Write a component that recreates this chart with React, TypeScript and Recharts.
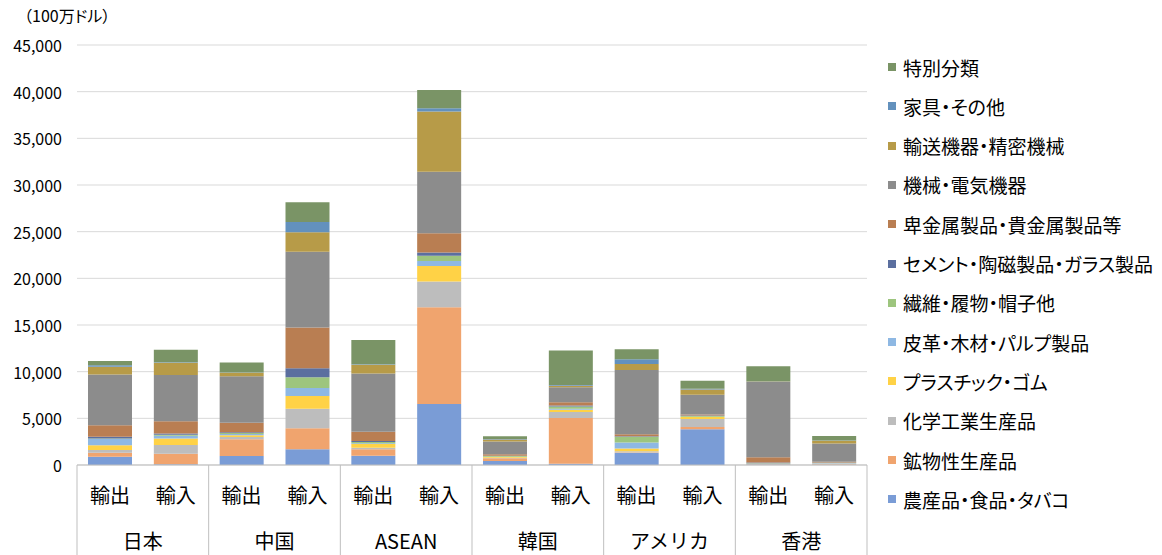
import { BarChart, Bar, XAxis, YAxis, CartesianGrid } from "recharts";

const regions = ["日本", "中国", "ASEAN", "韓国", "アメリカ", "香港"];
const flows = ["輸出", "輸入"];
const yTicks = [0, 5000, 10000, 15000, 20000, 25000, 30000, 35000, 40000, 45000];

// order: 日本 輸出/輸入, 中国, ASEAN, 韓国, アメリカ, 香港
const agri = [890, 70, 960, 1680, 1000, 6540, 430, 140, 1290, 3820, 60, 40];
const mineral = [430, 1140, 1790, 2250, 680, 10360, 290, 4890, 50, 250, 30, 30];
const chem = [290, 930, 250, 2110, 180, 2750, 70, 640, 140, 860, 30, 60];
const plastic = [500, 710, 180, 1360, 390, 1680, 70, 250, 290, 210, 20, 30];
const leather = [680, 290, 140, 860, 70, 540, 30, 100, 640, 40, 20, 60];
const textile = [50, 100, 100, 1140, 140, 540, 70, 250, 610, 70, 20, 20];
const cement = [180, 140, 100, 960, 100, 360, 40, 100, 70, 50, 100, 30];
const metal = [1250, 1320, 1000, 4360, 1000, 2070, 140, 360, 210, 100, 540, 70];
const machine = [5430, 4930, 5000, 8140, 6250, 6570, 1390, 1610, 6890, 2140, 8070, 1960];
const transport = [820, 1320, 360, 2070, 930, 6460, 210, 140, 640, 540, 50, 290];
const furniture = [180, 50, 40, 1110, 50, 360, 40, 100, 500, 100, 40, 30];
const special = [430, 1360, 1070, 2110, 2610, 1960, 290, 3680, 1070, 860, 1610, 500];

const series = [
  { key: "agri", name: "農産品・食品・タバコ", values: agri, color: "#7A9CD6" },
  { key: "mineral", name: "鉱物性生産品", values: mineral, color: "#F0A46E" },
  { key: "chem", name: "化学工業生産品", values: chem, color: "#BDBDBD" },
  { key: "plastic", name: "プラスチック・ゴム", values: plastic, color: "#FFD246" },
  { key: "leather", name: "皮革・木材・パルプ製品", values: leather, color: "#8EB8E3" },
  { key: "textile", name: "繊維・履物・帽子他", values: textile, color: "#9DC57E" },
  { key: "cement", name: "セメント・陶磁製品・ガラス製品", values: cement, color: "#5B6F9F" },
  { key: "metal", name: "卑金属製品・貴金属製品等", values: metal, color: "#B97E52" },
  { key: "machine", name: "機械・電気機器", values: machine, color: "#8C8C8C" },
  { key: "transport", name: "輸送機器・精密機械", values: transport, color: "#B79B48" },
  { key: "furniture", name: "家具・その他", values: furniture, color: "#6391BD" },
  { key: "special", name: "特別分類", values: special, color: "#7A9466" },
];

const data = regions.flatMap((region, r) =>
  flows.map((flow, f) => {
    const i = r * 2 + f;
    const row: any = { id: region + "-" + flow, region, flow };
    series.forEach((s) => (row[s.key] = s.values[i]));
    return row;
  })
);

const FONT = "'Noto Sans CJK JP', 'Noto Sans', sans-serif";
const BAND = 790 / 12;

const YTick = (props: any) => (
  <text x={62} y={props.y} textAnchor="end" dominantBaseline="central" fontSize={16} fill="#000" fontFamily={FONT}>
    {props.payload.value.toLocaleString("en-US")}
  </text>
);

const XTick = (props: any) => {
  const { x, y, index } = props;
  const row = data[index];
  const top = y - 8;
  return (
    <g>
      <text x={x} y={top + 29} textAnchor="middle" dominantBaseline="central" fontSize={20} fill="#000" fontFamily={FONT}>
        {row.flow}
      </text>
      {index % 2 === 0 && (
        <>
          <line x1={x - BAND / 2} x2={x - BAND / 2} y1={top} y2={top + 92} stroke="#BFBFBF" />
          <text x={x + BAND / 2} y={top + 75} textAnchor="middle" dominantBaseline="central" fontSize={20} fill="#000" fontFamily={FONT}>
            {row.region}
          </text>
        </>
      )}
      {index === data.length - 1 && (
        <line x1={x + BAND / 2} x2={x + BAND / 2} y1={top} y2={top + 92} stroke="#BFBFBF" />
      )}
    </g>
  );
};

export default function App() {
  const legendItems = [...series].reverse();
  return (
    <div style={{ position: "absolute", left: 0, top: 0, width: 1162, height: 555, background: "#fff", fontFamily: FONT }}>
      <div style={{ position: "absolute", left: 24, top: 3, fontSize: 16, color: "#000", fontFeatureSettings: '"palt"' }}>（100万ドル）</div>
      <BarChart width={1162} height={555} data={data} margin={{ top: 45, right: 295, bottom: 0, left: 0 }} barSize={44}>
        <CartesianGrid vertical={false} stroke="#D9D9D9" />
        <XAxis dataKey="id" height={90} interval={0} tickLine={false} axisLine={{ stroke: "#BFBFBF" }} tick={<XTick />} />
        <YAxis width={77} domain={[0, 45000]} ticks={yTicks} axisLine={false} tickLine={false} tick={<YTick />} />
        {series.map((s) => (
          <Bar key={s.key} dataKey={s.key} name={s.name} stackId="a" fill={s.color} isAnimationActive={false} />
        ))}
      </BarChart>
      {legendItems.map((s, i) => (
        <div
          key={s.key}
          style={{
            position: "absolute",
            left: 888,
            top: 67 + i * 39.3 - 12,
            height: 24,
            display: "flex",
            alignItems: "center",
            fontSize: 19,
            color: "#000",
            whiteSpace: "nowrap",
            fontFeatureSettings: '"palt"',
          }}
        >
          <span style={{ display: "inline-block", width: 8, height: 8, background: s.color, marginRight: 7 }} />
          {s.name}
        </div>
      ))}
    </div>
  );
}
